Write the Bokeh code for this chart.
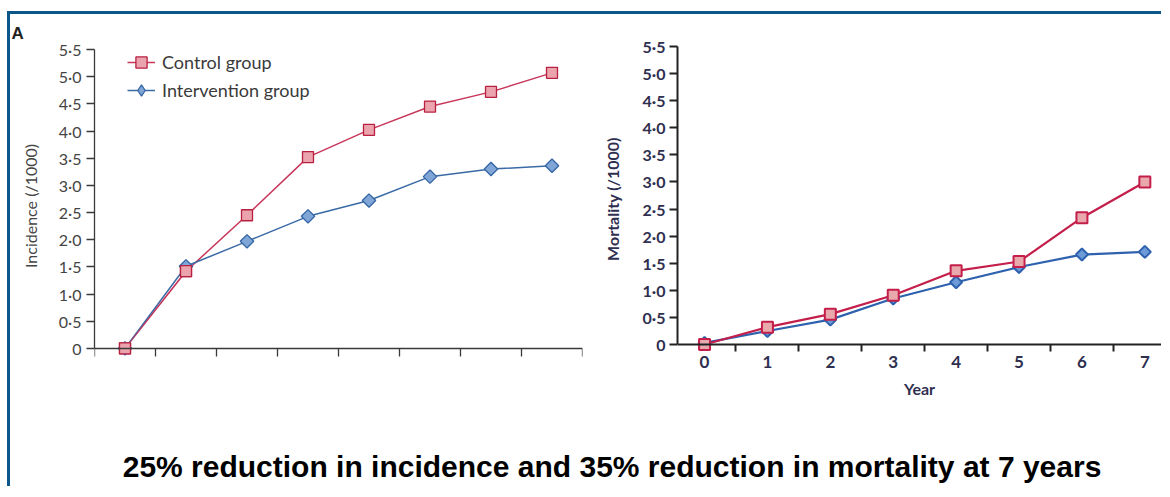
from bokeh.plotting import figure
from bokeh.models import FixedTicker, Legend, LegendItem, Label, Range1d, LinearAxis
from bokeh.layouts import column, row
from bokeh.embed import file_html
from bokeh.resources import INLINE
import math

# ---- data ----
years = [0, 1, 2, 3, 4, 5, 6, 7]
incidence_control = [0.0, 1.42, 2.45, 3.52, 4.02, 4.45, 4.72, 5.07]
incidence_intervention = [0.0, 1.51, 1.97, 2.43, 2.72, 3.16, 3.30, 3.36]
mortality_control = [0.0, 0.32, 0.56, 0.91, 1.36, 1.53, 2.34, 3.00]
mortality_intervention = [0.03, 0.25, 0.46, 0.85, 1.15, 1.43, 1.66, 1.71]
y_ticks = [0, 0.5, 1.0, 1.5, 2.0, 2.5, 3.0, 3.5, 4.0, 4.5, 5.0, 5.5]
y_tick_labels = ["0", "0·5", "1·0", "1·5", "2·0", "2·5", "3·0", "3·5", "4·0", "4·5", "5·0", "5·5"]
year_boundaries = [-0.5, 0.5, 1.5, 2.5, 3.5, 4.5, 5.5, 6.5, 7.5]
x_tick_labels = ["0", "1", "2", "3", "4", "5", "6", "7"]
series_names = ["Control group", "Intervention group"]
panel_label = "A"
left_ylabel = "Incidence (/1000)"
right_ylabel = "Mortality (/1000)"
right_xlabel = "Year"
caption = "25% reduction in incidence and 35% reduction in mortality at 7 years"

FONT = "Lato"
CTRL_LINE = "#c8365a"
CTRL_FILL = "#eba3ad"
CTRL_EDGE = "#b82040"
INT_LINE = "#3a6aa6"
INT_FILL = "#7fa6d6"
INT_EDGE = "#3465a4"
BORDER = "#0b578a"

# ---- left panel: incidence ----
p1 = figure(width=589, height=386, x_range=Range1d(-0.5, 7.5), y_range=Range1d(-0.26, 5.5),
            output_backend="svg", toolbar_location=None,
            min_border_left=84, min_border_right=17, min_border_top=34, min_border_bottom=38)
p1.frame_align = False
p1.grid.visible = False
p1.outline_line_color = None
p1.border_fill_color = "white"

p1.title.text = panel_label
p1.title.align = "left"
p1.title.offset = -83
p1.title.standoff = 14
p1.title.text_font = "Liberation Sans"
p1.title.text_font_style = "bold"
p1.title.text_font_size = "17px"
p1.title.text_color = "#222222"

ya = p1.yaxis[0]
ya.ticker = FixedTicker(ticks=y_ticks)
ya.major_label_overrides = {float(t): l for t, l in zip(y_ticks, y_tick_labels)}
ya.bounds = (0, 5.5)
ya.axis_line_color = "#3a3a3a"
ya.axis_line_width = 1.3
ya.major_tick_line_color = "#3a3a3a"
ya.major_tick_line_width = 1.3
ya.major_tick_out = 8
ya.major_tick_in = 0
ya.minor_tick_line_color = None
ya.major_label_standoff = 5
ya.major_label_text_font = FONT
ya.major_label_text_font_size = "16px"
ya.major_label_text_color = "#444444"
ya.axis_label = left_ylabel
ya.axis_label_text_font = FONT
ya.axis_label_text_font_style = "normal"
ya.axis_label_text_font_size = "16px"
ya.axis_label_text_color = "#444444"
ya.axis_label_standoff = 16

xa = p1.xaxis[0]
xa.ticker = FixedTicker(ticks=[], minor_ticks=year_boundaries)
xa.fixed_location = 0
xa.axis_line_color = "#3a3a3a"
xa.axis_line_width = 1.3
xa.major_tick_line_color = None
xa.minor_tick_line_color = "#3a3a3a"
xa.minor_tick_line_width = 1.3
xa.minor_tick_out = 8
xa.minor_tick_in = 0

l1 = p1.line(years, incidence_control, line_color=CTRL_LINE, line_width=1.5)
l2 = p1.line(years, incidence_intervention, line_color=INT_LINE, line_width=1.5)
s1 = p1.scatter(years, incidence_control, marker="square", size=11,
                fill_color=CTRL_FILL, line_color=CTRL_EDGE, line_width=1.3)
# diamond (legend shape), covered by the rotated squares drawn above it
s2 = p1.scatter(years, incidence_intervention, marker="diamond", size=11,
                fill_color=INT_FILL, line_color=INT_EDGE, line_width=1.3)
p1.scatter(years, incidence_intervention, marker="square", angle=math.pi / 4, size=9.5,
           fill_color=INT_FILL, line_color=INT_EDGE, line_width=1.3)
# control drawn on top at the first points
p1.line(years[:2], incidence_control[:2], line_color=CTRL_LINE, line_width=1.2, line_alpha=0.6)
p1.scatter(years[:2], incidence_control[:2], marker="square", size=11,
           fill_color=CTRL_FILL, line_color=CTRL_EDGE, line_width=1.3)

legend = Legend(items=[LegendItem(label=series_names[0], renderers=[l1, s1]),
                       LegendItem(label=series_names[1], renderers=[l2, s2])],
                location=(33, 258), orientation="vertical",
                glyph_width=28, glyph_height=28, label_height=28, label_standoff=7,
                spacing=-4, padding=0, margin=0,
                label_text_font=FONT, label_text_font_size="18px", label_text_color="#3a3a3a",
                border_line_color=None, background_fill_alpha=0)
p1.add_layout(legend)

# ---- right panel: mortality ----
p2 = figure(width=562, height=392, x_range=Range1d(-0.43, 7.265), y_range=Range1d(-0.129, 5.5),
            output_backend="svg", toolbar_location=None,
            min_border_left=78, min_border_right=0, min_border_top=32, min_border_bottom=55)
p2.frame_align = False
p2.grid.visible = False
p2.outline_line_color = None
p2.border_fill_color = "white"

LAB2 = "#2f2f4f"
yb = p2.yaxis[0]
yb.ticker = FixedTicker(ticks=y_ticks)
yb.major_label_overrides = {float(t): l for t, l in zip(y_ticks, y_tick_labels)}
yb.bounds = (0, 5.5)
yb.axis_line_color = "#222222"
yb.axis_line_width = 2
yb.major_tick_line_color = "#222222"
yb.major_tick_line_width = 2
yb.major_tick_out = 8
yb.major_tick_in = 0
yb.minor_tick_line_color = None
yb.major_label_standoff = 4
yb.major_label_text_font = FONT
yb.major_label_text_font_style = "bold"
yb.major_label_text_font_size = "16px"
yb.major_label_text_color = LAB2
yb.axis_label = right_ylabel
yb.axis_label_text_font = FONT
yb.axis_label_text_font_style = "bold"
yb.axis_label_text_font_size = "16px"
yb.axis_label_text_color = LAB2
yb.axis_label_standoff = 18

# axis line + boundary ticks at y = 0
xb = p2.xaxis[0]
xb.ticker = FixedTicker(ticks=[], minor_ticks=year_boundaries)
xb.fixed_location = 0
xb.axis_line_color = "#222222"
xb.axis_line_width = 2
xb.major_tick_line_color = None
xb.minor_tick_line_color = "#222222"
xb.minor_tick_line_width = 2
xb.minor_tick_out = 8
xb.minor_tick_in = 0

# year labels + axis title
xl = LinearAxis(ticker=FixedTicker(ticks=years),
                major_label_overrides={t: l for t, l in zip(years, x_tick_labels)},
                axis_line_color=None, major_tick_line_color=None, minor_tick_line_color=None,
                major_tick_out=0, major_tick_in=0, major_label_standoff=4,
                major_label_text_font=FONT, major_label_text_font_style="bold",
                major_label_text_font_size="17px", major_label_text_color=LAB2,
                axis_label=right_xlabel, axis_label_text_font=FONT,
                axis_label_text_font_style="bold", axis_label_text_font_size="16px",
                axis_label_text_color=LAB2, axis_label_standoff=8)
p2.add_layout(xl, "below")

p2.line(years, mortality_intervention, line_color="#2e62ae", line_width=2.2)
p2.line(years, mortality_control, line_color="#c41e4a", line_width=2.2)
p2.scatter(years, mortality_intervention, marker="square", angle=math.pi / 4, size=8.5,
           fill_color="#6d9bd8", line_color="#2e62ae", line_width=2)
p2.scatter(years, mortality_control, marker="square", size=11,
           fill_color="#e8a8ac", line_color="#c41e4a", line_width=2)

# ---- caption ----
p3 = figure(width=1151, height=80, x_range=Range1d(0, 1), y_range=Range1d(0, 1),
            output_backend="svg", toolbar_location=None,
            x_axis_location=None, y_axis_location=None, min_border=0)
p3.frame_align = False
p3.grid.visible = False
p3.outline_line_color = None
p3.add_layout(Label(x=0.5226, y=0.25, text=caption, text_align="center", text_baseline="middle",
                    text_font="Liberation Sans", text_font_style="bold",
                    text_font_size="30px", text_color="#000000"))

layout = column(row(p1, p2), p3,
                styles={"border-top": f"3px solid {BORDER}", "border-left": f"3px solid {BORDER}",
                        "margin-top": "11px", "margin-left": "7px"})

open("out.html", "w").write(file_html(layout, INLINE))
